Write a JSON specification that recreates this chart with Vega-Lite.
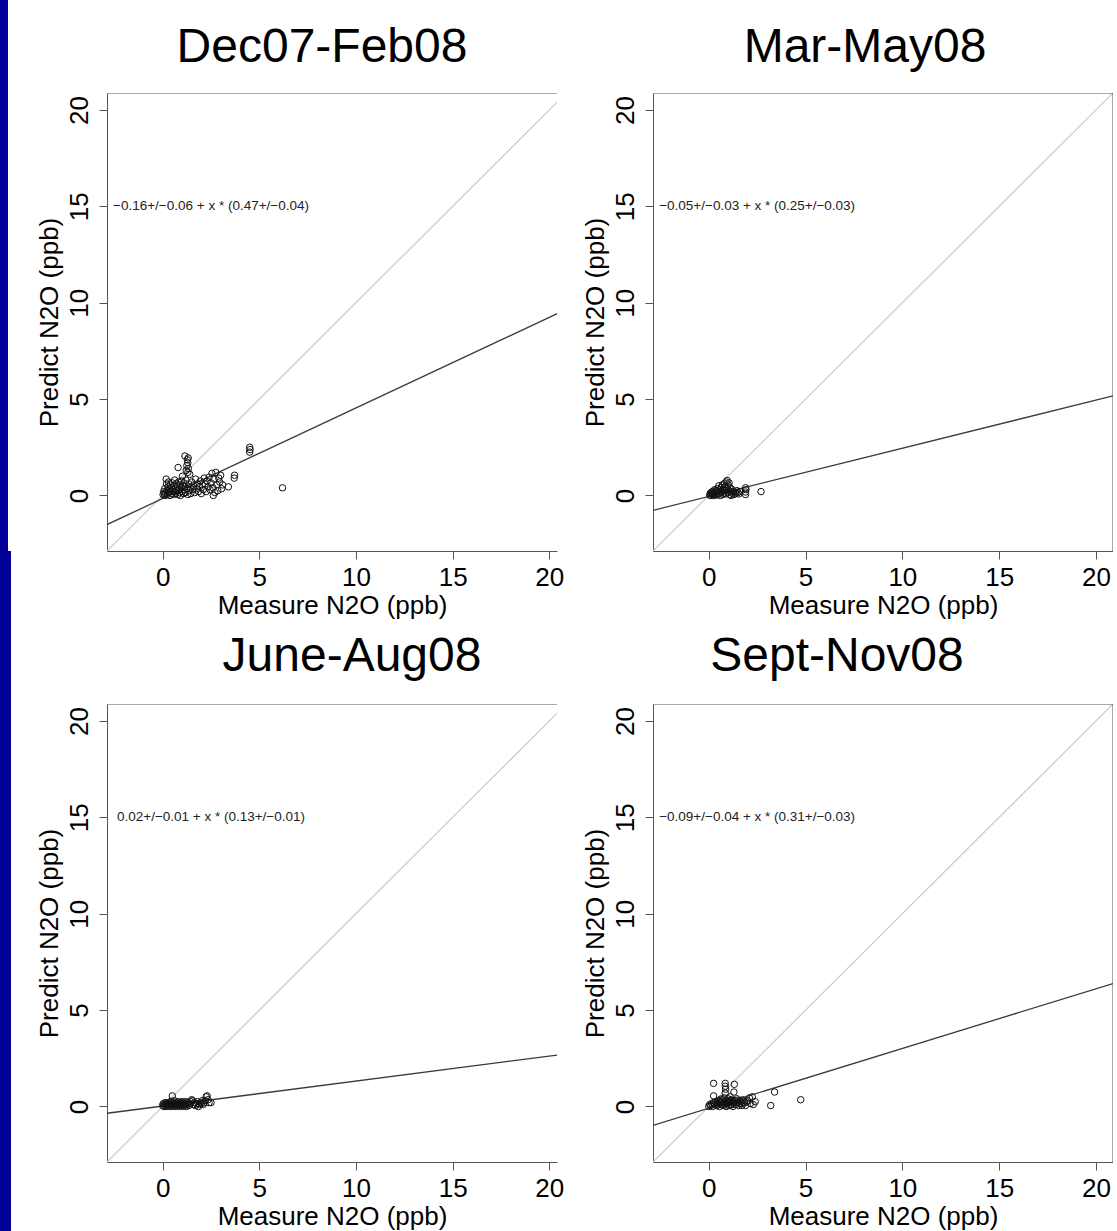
{
  "$schema": "https://vega.github.io/schema/vega-lite/v6.json",
  "padding": 0,
  "background": "white",
  "columns": 3,
  "spacing": {"row": 0, "column": 96},
  "bounds": "flush",
  "datasets": {
    "ident": [{"x": -2.88, "y": -2.88}, {"x": 20.88, "y": 20.88}],
    "reg1": [{"x": -2.88, "y": -1.51}, {"x": 20.88, "y": 9.65}],
    "reg2": [{"x": -2.88, "y": -0.77}, {"x": 20.88, "y": 5.17}],
    "reg3": [{"x": -2.88, "y": -0.35}, {"x": 20.88, "y": 2.73}],
    "reg4": [{"x": -2.88, "y": -0.98}, {"x": 20.88, "y": 6.38}],
    "eq1": [{"label": "−0.16+/−0.06 + x * (0.47+/−0.04)"}],
    "eq2": [{"label": "−0.05+/−0.03 + x * (0.25+/−0.03)"}],
    "eq3": [{"label": "0.02+/−0.01 + x * (0.13+/−0.01)"}],
    "eq4": [{"label": "−0.09+/−0.04 + x * (0.31+/−0.03)"}],
    "pts1": [
      {"x":0.02,"y":0.05},{"x":0.05,"y":0.2},{"x":0.08,"y":0.1},{"x":0.1,"y":0.35},{"x":0.12,"y":0.0},{"x":0.15,"y":0.15},{"x":0.18,"y":0.85},{"x":0.2,"y":0.6},{"x":0.22,"y":0.25},{"x":0.25,"y":0.05},
      {"x":0.28,"y":0.45},{"x":0.3,"y":0.7},{"x":0.32,"y":0.15},{"x":0.35,"y":0.3},{"x":0.38,"y":0.0},{"x":0.4,"y":0.55},{"x":0.42,"y":0.2},{"x":0.45,"y":0.4},{"x":0.48,"y":0.1},{"x":0.5,"y":0.65},
      {"x":0.52,"y":0.3},{"x":0.55,"y":0.05},{"x":0.58,"y":0.5},{"x":0.6,"y":0.2},{"x":0.62,"y":0.8},{"x":0.65,"y":0.35},{"x":0.68,"y":0.1},{"x":0.7,"y":0.6},{"x":0.72,"y":0.25},{"x":0.75,"y":0.45},
      {"x":0.78,"y":0.05},{"x":0.8,"y":1.45},{"x":0.82,"y":0.7},{"x":0.85,"y":0.3},{"x":0.88,"y":0.15},{"x":0.9,"y":0.55},{"x":0.92,"y":0.0},{"x":0.95,"y":0.4},{"x":0.98,"y":0.75},{"x":1.0,"y":0.2},
      {"x":1.02,"y":1.0},{"x":1.05,"y":0.5},{"x":1.08,"y":0.1},{"x":1.1,"y":0.65},{"x":1.12,"y":0.3},{"x":1.15,"y":2.05},{"x":1.15,"y":0.45},{"x":1.18,"y":0.15},{"x":1.2,"y":0.8},{"x":1.22,"y":1.3},
      {"x":1.25,"y":1.55},{"x":1.25,"y":0.35},{"x":1.28,"y":1.85},{"x":1.3,"y":1.7},{"x":1.3,"y":1.2},{"x":1.3,"y":0.05},{"x":1.32,"y":1.95},{"x":1.33,"y":1.4},{"x":1.35,"y":0.6},{"x":1.38,"y":0.25},
      {"x":1.4,"y":1.1},{"x":1.42,"y":0.45},{"x":1.45,"y":0.1},{"x":1.5,"y":0.7},{"x":1.55,"y":0.3},{"x":1.6,"y":0.5},{"x":1.65,"y":0.15},{"x":1.7,"y":0.85},{"x":1.75,"y":0.35},{"x":1.8,"y":0.6},
      {"x":1.85,"y":0.2},{"x":1.9,"y":0.45},{"x":1.95,"y":0.75},{"x":2.0,"y":0.1},{"x":2.05,"y":0.55},{"x":2.1,"y":0.3},{"x":2.15,"y":0.9},{"x":2.2,"y":0.6},{"x":2.25,"y":0.2},{"x":2.3,"y":0.75},
      {"x":2.35,"y":0.45},{"x":2.4,"y":0.95},{"x":2.45,"y":0.3},{"x":2.5,"y":0.65},{"x":2.55,"y":1.15},{"x":2.6,"y":0.4},{"x":2.62,"y":0.0},{"x":2.65,"y":0.85},{"x":2.7,"y":0.15},{"x":2.75,"y":1.2},
      {"x":2.8,"y":0.55},{"x":2.85,"y":0.25},{"x":2.9,"y":0.9},{"x":2.95,"y":0.7},{"x":3.0,"y":1.05},{"x":3.05,"y":0.35},{"x":3.1,"y":0.55},{"x":3.4,"y":0.45},{"x":3.7,"y":0.9},{"x":3.72,"y":1.05},
      {"x":4.5,"y":2.25},{"x":4.52,"y":2.38},{"x":4.5,"y":2.5},{"x":6.2,"y":0.4}
    ],
    "pts2": [
      {"x":0.05,"y":0.02},{"x":0.08,"y":0.12},{"x":0.1,"y":0.0},{"x":0.12,"y":0.08},{"x":0.15,"y":0.18},{"x":0.18,"y":0.05},{"x":0.2,"y":0.1},{"x":0.22,"y":0.22},{"x":0.25,"y":0.0},{"x":0.28,"y":0.15},
      {"x":0.3,"y":0.3},{"x":0.32,"y":0.05},{"x":0.35,"y":0.12},{"x":0.38,"y":0.25},{"x":0.4,"y":0.02},{"x":0.42,"y":0.18},{"x":0.45,"y":0.35},{"x":0.48,"y":0.08},{"x":0.5,"y":0.22},{"x":0.52,"y":0.5},
      {"x":0.55,"y":0.1},{"x":0.58,"y":0.3},{"x":0.6,"y":0.0},{"x":0.62,"y":0.15},{"x":0.65,"y":0.42},{"x":0.68,"y":0.2},{"x":0.7,"y":0.55},{"x":0.72,"y":0.05},{"x":0.75,"y":0.3},{"x":0.78,"y":0.12},
      {"x":0.8,"y":0.62},{"x":0.82,"y":0.25},{"x":0.85,"y":0.45},{"x":0.88,"y":0.08},{"x":0.9,"y":0.7},{"x":0.92,"y":0.35},{"x":0.95,"y":0.78},{"x":0.98,"y":0.15},{"x":1.0,"y":0.55},{"x":1.02,"y":0.28},
      {"x":1.05,"y":0.65},{"x":1.08,"y":0.05},{"x":1.1,"y":0.4},{"x":1.12,"y":0.2},{"x":1.15,"y":0.0},{"x":1.18,"y":0.32},{"x":1.2,"y":0.12},{"x":1.25,"y":0.22},{"x":1.3,"y":0.05},{"x":1.35,"y":0.18},
      {"x":1.4,"y":0.1},{"x":1.45,"y":0.25},{"x":1.5,"y":0.15},{"x":1.55,"y":0.08},{"x":1.6,"y":0.2},{"x":1.9,"y":0.05},{"x":1.9,"y":0.18},{"x":1.92,"y":0.3},{"x":1.9,"y":0.4},{"x":2.7,"y":0.2}
    ],
    "pts3": [
      {"x":0.0,"y":0.05},{"x":0.03,"y":0.15},{"x":0.06,"y":0.0},{"x":0.1,"y":0.1},{"x":0.13,"y":0.2},{"x":0.16,"y":0.05},{"x":0.2,"y":0.15},{"x":0.23,"y":0.0},{"x":0.26,"y":0.1},{"x":0.3,"y":0.2},
      {"x":0.33,"y":0.05},{"x":0.36,"y":0.15},{"x":0.4,"y":0.25},{"x":0.43,"y":0.0},{"x":0.46,"y":0.1},{"x":0.5,"y":0.55},{"x":0.5,"y":0.2},{"x":0.53,"y":0.05},{"x":0.56,"y":0.15},{"x":0.6,"y":0.3},
      {"x":0.63,"y":0.0},{"x":0.66,"y":0.1},{"x":0.7,"y":0.2},{"x":0.73,"y":0.05},{"x":0.76,"y":0.15},{"x":0.8,"y":0.25},{"x":0.83,"y":0.0},{"x":0.86,"y":0.1},{"x":0.9,"y":0.2},{"x":0.93,"y":0.05},
      {"x":0.96,"y":0.15},{"x":1.0,"y":0.25},{"x":1.03,"y":0.0},{"x":1.06,"y":0.1},{"x":1.1,"y":0.2},{"x":1.13,"y":0.05},{"x":1.16,"y":0.15},{"x":1.2,"y":0.25},{"x":1.23,"y":0.0},{"x":1.26,"y":0.1},
      {"x":1.3,"y":0.2},{"x":1.35,"y":0.05},{"x":1.4,"y":0.15},{"x":1.45,"y":0.25},{"x":1.5,"y":0.35},{"x":1.55,"y":0.3},{"x":1.6,"y":0.1},{"x":1.65,"y":0.2},{"x":1.7,"y":0.05},{"x":1.75,"y":0.15},
      {"x":1.8,"y":0.25},{"x":1.85,"y":0.0},{"x":1.9,"y":0.1},{"x":1.95,"y":0.2},{"x":2.0,"y":0.15},{"x":2.05,"y":0.3},{"x":2.1,"y":0.1},{"x":2.15,"y":0.2},{"x":2.2,"y":0.3},{"x":2.25,"y":0.5},
      {"x":2.3,"y":0.55},{"x":2.35,"y":0.35},{"x":2.4,"y":0.2},{"x":2.5,"y":0.2}
    ],
    "pts4": [
      {"x":0.0,"y":0.0},{"x":0.05,"y":0.1},{"x":0.1,"y":0.05},{"x":0.15,"y":0.15},{"x":0.2,"y":0.0},{"x":0.25,"y":0.55},{"x":0.25,"y":1.2},{"x":0.25,"y":0.2},{"x":0.3,"y":0.1},{"x":0.35,"y":0.25},
      {"x":0.4,"y":0.05},{"x":0.45,"y":0.15},{"x":0.5,"y":0.3},{"x":0.55,"y":0.0},{"x":0.6,"y":0.2},{"x":0.65,"y":0.1},{"x":0.7,"y":0.35},{"x":0.75,"y":0.05},{"x":0.8,"y":0.45},{"x":0.82,"y":0.2},
      {"x":0.85,"y":1.2},{"x":0.85,"y":1.05},{"x":0.87,"y":0.9},{"x":0.85,"y":0.7},{"x":0.9,"y":0.0},{"x":0.92,"y":0.3},{"x":0.95,"y":0.15},{"x":1.0,"y":0.4},{"x":1.02,"y":0.05},{"x":1.05,"y":0.25},
      {"x":1.1,"y":0.5},{"x":1.12,"y":0.1},{"x":1.15,"y":0.35},{"x":1.2,"y":0.2},{"x":1.25,"y":0.0},{"x":1.3,"y":0.75},{"x":1.32,"y":1.15},{"x":1.35,"y":0.3},{"x":1.4,"y":0.1},{"x":1.45,"y":0.4},
      {"x":1.5,"y":0.2},{"x":1.55,"y":0.05},{"x":1.6,"y":0.3},{"x":1.7,"y":0.15},{"x":1.75,"y":0.35},{"x":1.8,"y":0.25},{"x":1.9,"y":0.05},{"x":2.0,"y":0.3},{"x":2.1,"y":0.45},{"x":2.15,"y":0.15},
      {"x":2.25,"y":0.5},{"x":2.3,"y":0.1},{"x":2.4,"y":0.25},{"x":3.2,"y":0.05},{"x":3.4,"y":0.75},{"x":4.75,"y":0.35},
      {"x":0.38,"y":0.18},{"x":0.48,"y":0.08},{"x":0.58,"y":0.28},{"x":0.68,"y":0.22},{"x":0.72,"y":0.12},{"x":0.78,"y":0.3},{"x":0.88,"y":0.12},{"x":0.98,"y":0.22},{"x":1.08,"y":0.32},{"x":1.18,"y":0.08},
      {"x":1.22,"y":0.28},{"x":1.28,"y":0.18},{"x":1.38,"y":0.22},{"x":1.48,"y":0.32},{"x":1.58,"y":0.15},{"x":1.65,"y":0.25},{"x":1.72,"y":0.05},{"x":1.85,"y":0.18},{"x":1.95,"y":0.25},{"x":0.62,"y":0.38}
    ]
  },
  "concat": [
    {"width": 8, "height": 93, "data": {"values": [{"k": 1}]}, "mark": {"type": "rect", "color": "#000099"}, "encoding": {}, "view": {"stroke": null, "fill": "#000099"}},
    {"width": 450, "height": 93, "data": {"values": [{"t": "Dec07-Feb08"}]}, "mark": {"type": "text", "font": "Liberation Sans", "fontSize": 48, "color": "#000", "dx": -10, "dy": 1.3}, "encoding": {"text": {"field": "t"}}, "view": {"stroke": null}},
    {"width": 460, "height": 93, "data": {"values": [{"t": "Mar-May08"}]}, "mark": {"type": "text", "font": "Liberation Sans", "fontSize": 48, "color": "#000", "dx": -18, "dy": 1.3}, "encoding": {"text": {"field": "t"}}, "view": {"stroke": null}},

    {"width": 8, "height": 458, "data": {"values": [{"k": 1}]}, "mark": {"type": "rect", "color": "#000099"}, "encoding": {}, "view": {"stroke": null, "fill": "#000099"}},
    {
      "width": 450, "height": 458, "view": {"stroke": null},
      "layer": [
        {"data": {"name": "ident"}, "mark": {"type": "line", "color": "#c8c8c8", "strokeWidth": 1.2, "clip": true},
         "encoding": {"x": {"field": "x", "type": "quantitative", "title": "Measure N2O (ppb)", "scale": {"domain": [-2.88, 20.4], "nice": false, "zero": false}, "axis": {"values": [0, 5, 10, 15, 20]}},
                      "y": {"field": "y", "type": "quantitative", "title": "Predict N2O (ppb)", "scale": {"domain": [-2.88, 20.88], "nice": false, "zero": false}, "axis": {"values": [0, 5, 10, 15, 20]}}}},
        {"data": {"name": "reg1"}, "mark": {"type": "line", "color": "#3a3a3a", "strokeWidth": 1.3, "clip": true},
         "encoding": {"x": {"field": "x", "type": "quantitative", "title": "Measure N2O (ppb)"}, "y": {"field": "y", "type": "quantitative", "title": "Predict N2O (ppb)"}}},
        {"data": {"name": "pts1"}, "mark": {"type": "point", "shape": "circle", "filled": false, "color": "#111", "size": 42, "strokeWidth": 1, "opacity": 1},
         "encoding": {"x": {"field": "x", "type": "quantitative", "title": "Measure N2O (ppb)"}, "y": {"field": "y", "type": "quantitative", "title": "Predict N2O (ppb)"}}},
        {"data": {"name": "eq1"}, "mark": {"type": "text", "font": "Liberation Sans", "fontSize": 13.5, "color": "#222", "align": "center", "baseline": "middle"},
         "encoding": {"x": {"datum": 2.5, "type": "quantitative", "title": "Measure N2O (ppb)"}, "y": {"datum": 15, "type": "quantitative", "title": "Predict N2O (ppb)"}, "text": {"field": "label"}}},
        {"data": {"name": "eq1"}, "mark": {"type": "rule", "color": "#555", "strokeWidth": 1, "clip": true},
         "encoding": {"x": {"datum": -2.88, "type": "quantitative", "title": "Measure N2O (ppb)"}, "x2": {"datum": 20.88}, "y": {"datum": 20.88, "type": "quantitative", "title": "Predict N2O (ppb)"}}}
      ]
    },
    {
      "width": 460, "height": 458, "view": {"stroke": null},
      "layer": [
        {"data": {"name": "ident"}, "mark": {"type": "line", "color": "#c8c8c8", "strokeWidth": 1.2, "clip": true},
         "encoding": {"x": {"field": "x", "type": "quantitative", "title": "Measure N2O (ppb)", "scale": {"domain": [-2.88, 20.88], "nice": false, "zero": false}, "axis": {"values": [0, 5, 10, 15, 20]}},
                      "y": {"field": "y", "type": "quantitative", "title": "Predict N2O (ppb)", "scale": {"domain": [-2.88, 20.88], "nice": false, "zero": false}, "axis": {"values": [0, 5, 10, 15, 20]}}}},
        {"data": {"name": "reg2"}, "mark": {"type": "line", "color": "#3a3a3a", "strokeWidth": 1.3, "clip": true},
         "encoding": {"x": {"field": "x", "type": "quantitative", "title": "Measure N2O (ppb)"}, "y": {"field": "y", "type": "quantitative", "title": "Predict N2O (ppb)"}}},
        {"data": {"name": "pts2"}, "mark": {"type": "point", "shape": "circle", "filled": false, "color": "#111", "size": 42, "strokeWidth": 1, "opacity": 1},
         "encoding": {"x": {"field": "x", "type": "quantitative", "title": "Measure N2O (ppb)"}, "y": {"field": "y", "type": "quantitative", "title": "Predict N2O (ppb)"}}},
        {"data": {"name": "eq2"}, "mark": {"type": "text", "font": "Liberation Sans", "fontSize": 13.5, "color": "#222", "align": "center", "baseline": "middle"},
         "encoding": {"x": {"datum": 2.5, "type": "quantitative", "title": "Measure N2O (ppb)"}, "y": {"datum": 15, "type": "quantitative", "title": "Predict N2O (ppb)"}, "text": {"field": "label"}}},
        {"data": {"name": "eq2"}, "mark": {"type": "rule", "color": "#555", "strokeWidth": 1, "clip": true},
         "encoding": {"x": {"datum": -2.88, "type": "quantitative", "title": "Measure N2O (ppb)"}, "x2": {"datum": 20.88}, "y": {"datum": 20.88, "type": "quantitative", "title": "Predict N2O (ppb)"}}},
        {"data": {"name": "eq2"}, "mark": {"type": "rule", "color": "#555", "strokeWidth": 1, "clip": true},
         "encoding": {"x": {"datum": 20.88, "type": "quantitative", "title": "Measure N2O (ppb)"}, "y": {"datum": -2.88, "type": "quantitative", "title": "Predict N2O (ppb)"}, "y2": {"datum": 20.88}}}
      ]
    },

    {"width": 11, "height": 153, "data": {"values": [{"k": 1}]}, "mark": {"type": "rect", "color": "#000099"}, "encoding": {}, "view": {"stroke": null, "fill": "#000099"}},
    {"width": 450, "height": 153, "data": {"values": [{"t": "June-Aug08"}]}, "mark": {"type": "text", "font": "Liberation Sans", "fontSize": 48, "color": "#000", "dx": 20, "dy": 29}, "encoding": {"text": {"field": "t"}}, "view": {"stroke": null}},
    {"width": 460, "height": 153, "data": {"values": [{"t": "Sept-Nov08"}]}, "mark": {"type": "text", "font": "Liberation Sans", "fontSize": 48, "color": "#000", "dx": -46, "dy": 29}, "encoding": {"text": {"field": "t"}}, "view": {"stroke": null}},

    {"width": 11, "height": 458, "data": {"values": [{"k": 1}]}, "mark": {"type": "rect", "color": "#000099"}, "encoding": {}, "view": {"stroke": null, "fill": "#000099"}},
    {
      "width": 450, "height": 458, "view": {"stroke": null},
      "layer": [
        {"data": {"name": "ident"}, "mark": {"type": "line", "color": "#c8c8c8", "strokeWidth": 1.2, "clip": true},
         "encoding": {"x": {"field": "x", "type": "quantitative", "title": "Measure N2O (ppb)", "scale": {"domain": [-2.88, 20.4], "nice": false, "zero": false}, "axis": {"values": [0, 5, 10, 15, 20]}},
                      "y": {"field": "y", "type": "quantitative", "title": "Predict N2O (ppb)", "scale": {"domain": [-2.88, 20.88], "nice": false, "zero": false}, "axis": {"values": [0, 5, 10, 15, 20]}}}},
        {"data": {"name": "reg3"}, "mark": {"type": "line", "color": "#3a3a3a", "strokeWidth": 1.3, "clip": true},
         "encoding": {"x": {"field": "x", "type": "quantitative", "title": "Measure N2O (ppb)"}, "y": {"field": "y", "type": "quantitative", "title": "Predict N2O (ppb)"}}},
        {"data": {"name": "pts3"}, "mark": {"type": "point", "shape": "circle", "filled": false, "color": "#111", "size": 42, "strokeWidth": 1, "opacity": 1},
         "encoding": {"x": {"field": "x", "type": "quantitative", "title": "Measure N2O (ppb)"}, "y": {"field": "y", "type": "quantitative", "title": "Predict N2O (ppb)"}}},
        {"data": {"name": "eq3"}, "mark": {"type": "text", "font": "Liberation Sans", "fontSize": 13.5, "color": "#222", "align": "center", "baseline": "middle"},
         "encoding": {"x": {"datum": 2.5, "type": "quantitative", "title": "Measure N2O (ppb)"}, "y": {"datum": 15, "type": "quantitative", "title": "Predict N2O (ppb)"}, "text": {"field": "label"}}},
        {"data": {"name": "eq3"}, "mark": {"type": "rule", "color": "#555", "strokeWidth": 1, "clip": true},
         "encoding": {"x": {"datum": -2.88, "type": "quantitative", "title": "Measure N2O (ppb)"}, "x2": {"datum": 20.88}, "y": {"datum": 20.88, "type": "quantitative", "title": "Predict N2O (ppb)"}}}
      ]
    },
    {
      "width": 460, "height": 458, "view": {"stroke": null},
      "layer": [
        {"data": {"name": "ident"}, "mark": {"type": "line", "color": "#c8c8c8", "strokeWidth": 1.2, "clip": true},
         "encoding": {"x": {"field": "x", "type": "quantitative", "title": "Measure N2O (ppb)", "scale": {"domain": [-2.88, 20.88], "nice": false, "zero": false}, "axis": {"values": [0, 5, 10, 15, 20]}},
                      "y": {"field": "y", "type": "quantitative", "title": "Predict N2O (ppb)", "scale": {"domain": [-2.88, 20.88], "nice": false, "zero": false}, "axis": {"values": [0, 5, 10, 15, 20]}}}},
        {"data": {"name": "reg4"}, "mark": {"type": "line", "color": "#3a3a3a", "strokeWidth": 1.3, "clip": true},
         "encoding": {"x": {"field": "x", "type": "quantitative", "title": "Measure N2O (ppb)"}, "y": {"field": "y", "type": "quantitative", "title": "Predict N2O (ppb)"}}},
        {"data": {"name": "pts4"}, "mark": {"type": "point", "shape": "circle", "filled": false, "color": "#111", "size": 42, "strokeWidth": 1, "opacity": 1},
         "encoding": {"x": {"field": "x", "type": "quantitative", "title": "Measure N2O (ppb)"}, "y": {"field": "y", "type": "quantitative", "title": "Predict N2O (ppb)"}}},
        {"data": {"name": "eq4"}, "mark": {"type": "text", "font": "Liberation Sans", "fontSize": 13.5, "color": "#222", "align": "center", "baseline": "middle"},
         "encoding": {"x": {"datum": 2.5, "type": "quantitative", "title": "Measure N2O (ppb)"}, "y": {"datum": 15, "type": "quantitative", "title": "Predict N2O (ppb)"}, "text": {"field": "label"}}},
        {"data": {"name": "eq4"}, "mark": {"type": "rule", "color": "#555", "strokeWidth": 1, "clip": true},
         "encoding": {"x": {"datum": -2.88, "type": "quantitative", "title": "Measure N2O (ppb)"}, "x2": {"datum": 20.88}, "y": {"datum": 20.88, "type": "quantitative", "title": "Predict N2O (ppb)"}}},
        {"data": {"name": "eq4"}, "mark": {"type": "rule", "color": "#555", "strokeWidth": 1, "clip": true},
         "encoding": {"x": {"datum": 20.88, "type": "quantitative", "title": "Measure N2O (ppb)"}, "y": {"datum": -2.88, "type": "quantitative", "title": "Predict N2O (ppb)"}, "y2": {"datum": 20.88}}}
      ]
    },

    {"width": 11, "height": 69, "data": {"values": [{"k": 1}]}, "mark": {"type": "rect", "color": "#000099"}, "encoding": {}, "view": {"stroke": null, "fill": "#000099"}}
  ],
  "config": {
    "view": {"stroke": null},
    "font": "Liberation Sans",
    "axis": {
      "labelFont": "Liberation Sans", "titleFont": "Liberation Sans",
      "labelFontSize": 26, "titleFontSize": 26, "titleFontWeight": "normal",
      "labelColor": "#000", "titleColor": "#000",
      "tickColor": "#555", "domainColor": "#555", "tickSize": 8, "tickWidth": 1, "domainWidth": 1,
      "grid": false, "labelFlush": false, "labelOverlap": false, "labelBound": false
    },
    "axisX": {"labelPadding": 5, "titlePadding": 2},
    "axisY": {"labelAngle": 270, "labelAlign": "center", "labelBaseline": "bottom", "labelPadding": 7, "titlePadding": 4}
  }
}
